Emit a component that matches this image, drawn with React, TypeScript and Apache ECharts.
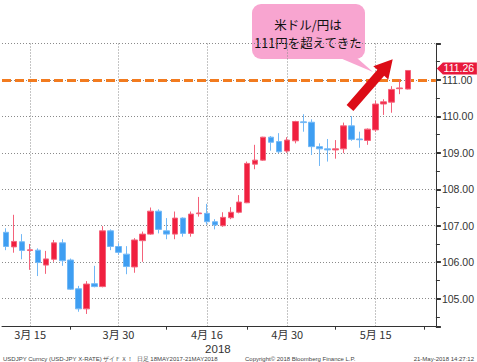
import React, { useEffect, useRef } from 'react';
import * as echarts from 'echarts';

// Trading days (3 empty slots at the right end)
const dates: string[] = [
  '3/12', '3/13', '3/14', '3/15', '3/16',
  '3/19', '3/20', '3/21', '3/22', '3/23',
  '3/26', '3/27', '3/28', '3/29', '3/30',
  '4/2', '4/3', '4/4', '4/5', '4/6',
  '4/9', '4/10', '4/11', '4/12', '4/13',
  '4/16', '4/17', '4/18', '4/19', '4/20',
  '4/23', '4/24', '4/25', '4/26', '4/27',
  '4/30', '5/1', '5/2', '5/3', '5/4',
  '5/7', '5/8', '5/9', '5/10', '5/11',
  '5/14', '5/15', '5/16', '5/17', '5/18',
  '5/21', '5/22', '5/23', '5/24',
];

// [open, close, low, high]
const ohlc: number[][] = [
  [106.82, 106.43, 106.33, 106.93],
  [106.42, 106.57, 106.26, 107.30],
  [106.56, 106.32, 106.08, 106.77],
  [106.32, 106.34, 105.79, 106.50],
  [106.33, 105.99, 105.62, 106.38],
  [105.92, 106.09, 105.68, 106.31],
  [106.08, 106.53, 106.01, 106.61],
  [106.53, 106.04, 105.90, 106.63],
  [106.06, 105.26, 105.24, 106.10],
  [105.27, 104.72, 104.64, 105.35],
  [104.72, 105.40, 104.58, 105.48],
  [105.41, 105.33, 105.31, 105.90],
  [105.33, 106.86, 105.31, 106.99],
  [106.86, 106.43, 106.33, 106.90],
  [106.43, 106.27, 106.20, 106.52],
  [106.22, 105.88, 105.67, 106.44],
  [105.87, 106.61, 105.71, 106.66],
  [106.59, 106.77, 106.01, 106.84],
  [106.77, 107.40, 106.75, 107.50],
  [107.40, 106.90, 106.79, 107.45],
  [106.86, 106.77, 106.63, 107.21],
  [106.77, 107.21, 106.63, 107.39],
  [107.21, 106.79, 106.70, 107.23],
  [106.79, 107.32, 106.70, 107.39],
  [107.33, 107.35, 107.25, 107.79],
  [107.34, 107.11, 107.03, 107.60],
  [107.11, 107.02, 106.90, 107.18],
  [107.00, 107.23, 106.97, 107.37],
  [107.22, 107.37, 107.18, 107.51],
  [107.37, 107.65, 107.34, 107.84],
  [107.63, 108.71, 107.62, 108.76],
  [108.69, 108.80, 108.55, 109.22],
  [108.80, 109.43, 108.78, 109.44],
  [109.43, 109.29, 109.06, 109.46],
  [109.31, 109.03, 108.99, 109.54],
  [109.05, 109.35, 109.00, 109.43],
  [109.33, 109.86, 109.26, 109.88],
  [109.85, 109.83, 109.58, 110.06],
  [109.84, 109.17, 108.94, 109.92],
  [109.17, 109.11, 108.64, 109.26],
  [109.11, 109.08, 108.76, 109.38],
  [109.08, 109.11, 108.84, 109.35],
  [109.11, 109.74, 108.99, 109.83],
  [109.74, 109.37, 109.33, 110.01],
  [109.38, 109.36, 109.14, 109.58],
  [109.34, 109.65, 109.22, 109.67],
  [109.63, 110.34, 109.58, 110.43],
  [110.34, 110.40, 110.04, 110.47],
  [110.39, 110.74, 110.10, 110.83],
  [110.76, 110.78, 110.61, 111.02],
  [110.75, 111.26, 110.74, 111.26],
];

const labelIdx: number[] = [3, 14, 25, 35, 46];
const minorTickIdx: number[] = [8, 20, 30, 41, 52];
const yearLabel = '2018';
const yearLabelAt = 25;
const refLevel = 111;
const yMin = 104.23;
const yMax = 112;

const calloutText = '米ドル/円は\n111円を超えてきた';
const footerLeft = 'USDJPY Curncy (USD-JPY X-RATE) ザイＦＸ！  日足 18MAY2017-21MAY2018';
const footerMid = 'Copyright© 2018 Bloomberg Finance L.P.';
const footerRight = '21-May-2018 14:27:12';

const RED = '#f0203f';
const RED_W = '#f4627a';
const BLUE = '#3e9ef2';
const BLUE_W = '#72b8f6';
const ORANGE = '#f27b1f';
const PINK = '#f8a5d0';
const ARROW = '#dc0c16';
const TXT = '#333';
const GRID = '#8a8a8a';
const CJK = 'Noto Sans CJK JP';

function fmtDate(d: string): string {
  const [m, day] = d.split('/');
  return `${m}月 ${day}`;
}

export default function App() {
  const ref = useRef<HTMLDivElement>(null);
  useEffect(() => {
    if (!ref.current) return;
    const chart = echarts.init(ref.current, null, { renderer: 'svg' });
    const last = ohlc[ohlc.length - 1];
    const option: any = {
      animation: false,
      backgroundColor: '#fff',
      grid: { left: 2, right: 40, top: 43.5, bottom: 35.3, containLabel: false },
      xAxis: [
        {
          type: 'category',
          data: dates,
          boundaryGap: true,
          axisLine: { show: true, lineStyle: { color: TXT, width: 1 } },
          axisTick: {
            show: true,
            alignWithLabel: true,
            interval: (i: number) => minorTickIdx.includes(i),
            length: 3,
            lineStyle: { color: TXT },
          },
          axisLabel: {
            interval: (i: number) => labelIdx.includes(i),
            formatter: (v: string) => fmtDate(v),
            color: TXT,
            margin: 1,
            fontSize: 11,
            lineHeight: 13,
            fontFamily: CJK,
          },
          splitLine: {
            show: true,
            alignWithLabel: true,
            interval: (i: number) => labelIdx.includes(i),
            lineStyle: { color: GRID, type: [1, 2], width: 1 },
          },
        },
        {
          type: 'category',
          data: dates,
          boundaryGap: true,
          position: 'bottom',
          offset: 15,
          axisLine: { show: false },
          axisTick: { show: false },
          splitLine: { show: false },
          axisLabel: {
            interval: (i: number) => i === yearLabelAt,
            formatter: () => yearLabel,
            color: TXT,
            margin: 1,
            fontSize: 11.5,
            lineHeight: 12,
            fontFamily: 'Liberation Sans',
            padding: [0, 0, 0, 22],
          },
        },
      ],
      yAxis: {
        type: 'value',
        position: 'right',
        min: yMin,
        max: yMax,
        splitNumber: 8,
        axisLine: { show: true, lineStyle: { color: TXT, width: 1 } },
        axisTick: { show: true, length: 5, lineStyle: { color: TXT, width: 2 } },
        minorTick: { show: true, splitNumber: 2, length: 4, lineStyle: { color: TXT, width: 1 } },
        axisLabel: {
          showMinLabel: false,
          showMaxLabel: false,
          margin: 6,
          color: TXT,
          fontSize: 10.5,
          fontFamily: 'Liberation Sans',
          formatter: (v: number) =>
            Math.abs(v - Math.round(v)) < 1e-6 && v < yMax - 0.5 ? v.toFixed(2) : '',
        },
        splitLine: { show: true, lineStyle: { color: GRID, type: [1, 2], width: 1 } },
      },
      series: [
        {
          type: 'candlestick',
          xAxisIndex: 0,
          data: ohlc,
          barWidth: 6,
          itemStyle: {
            color: RED,
            color0: BLUE,
            borderColor: RED_W,
            borderColor0: BLUE_W,
            borderWidth: 1,
          },
          markLine: {
            z: 1,
            silent: true,
            symbol: 'none',
            label: { show: false },
            lineStyle: { color: ORANGE, width: 3, type: [9, 4] },
            data: [{ yAxis: refLevel }],
          },
          markPoint: {
            silent: true,
            symbol: 'path://M0,6 L6,0 L40,0 L40,12 L6,12 Z',
            symbolSize: [40, 12],
            symbolKeepAspect: false,
            symbolOffset: [25, -2],
            itemStyle: { color: '#e8193c' },
            label: {
              show: true,
              color: '#fff',
              fontSize: 10.5,
              fontFamily: 'Liberation Sans',
              offset: [2, 0],
              formatter: (p: any) => Number(p.value).toFixed(2),
            },
            data: [{ coord: [dates[dates.length - 1], last[1]], value: last[1] }],
          },
        },
      ],
      graphic: [
        {
          type: 'group',
          children: [
            { type: 'rect', shape: { x: 252, y: 4, width: 113, height: 55, r: 9 }, style: { fill: PINK } },
            { type: 'polygon', shape: { points: [[340, 58], [357, 58], [373, 72]] }, style: { fill: PINK } },
            {
              type: 'text',
              x: 308,
              y: 33,
              style: {
                text: calloutText,
                fill: '#111',
                fontSize: 12.5,
                lineHeight: 18,
                fontFamily: CJK,
                align: 'center',
                verticalAlign: 'middle',
              },
            },
          ],
        },
        {
          type: 'polygon',
          z: 10,
          shape: {
            points: [
              [353.4, 111.0], [384.2, 75.8], [388.3, 79.4], [392.7, 59.3],
              [373.3, 66.2], [377.4, 69.8], [346.6, 105.0],
            ],
          },
          style: { fill: ARROW },
        },
        { type: 'text', x: 3, y: 359, style: { text: footerLeft, fontSize: 6, fill: '#444', fontFamily: 'Liberation Sans', verticalAlign: 'middle' } },
        { type: 'text', x: 245, y: 359, style: { text: footerMid, fontSize: 6, fill: '#444', fontFamily: 'Liberation Sans', verticalAlign: 'middle' } },
        { type: 'text', x: 474, y: 359, style: { text: footerRight, fontSize: 6, fill: '#444', fontFamily: 'Liberation Sans', align: 'right', verticalAlign: 'middle' } },
      ],
    };
    chart.setOption(option);
    return () => chart.dispose();
  }, []);
  return (
    <div
      ref={ref}
      style={{ position: 'absolute', left: 0, top: 0, width: 477, height: 362 }}
    />
  );
}
